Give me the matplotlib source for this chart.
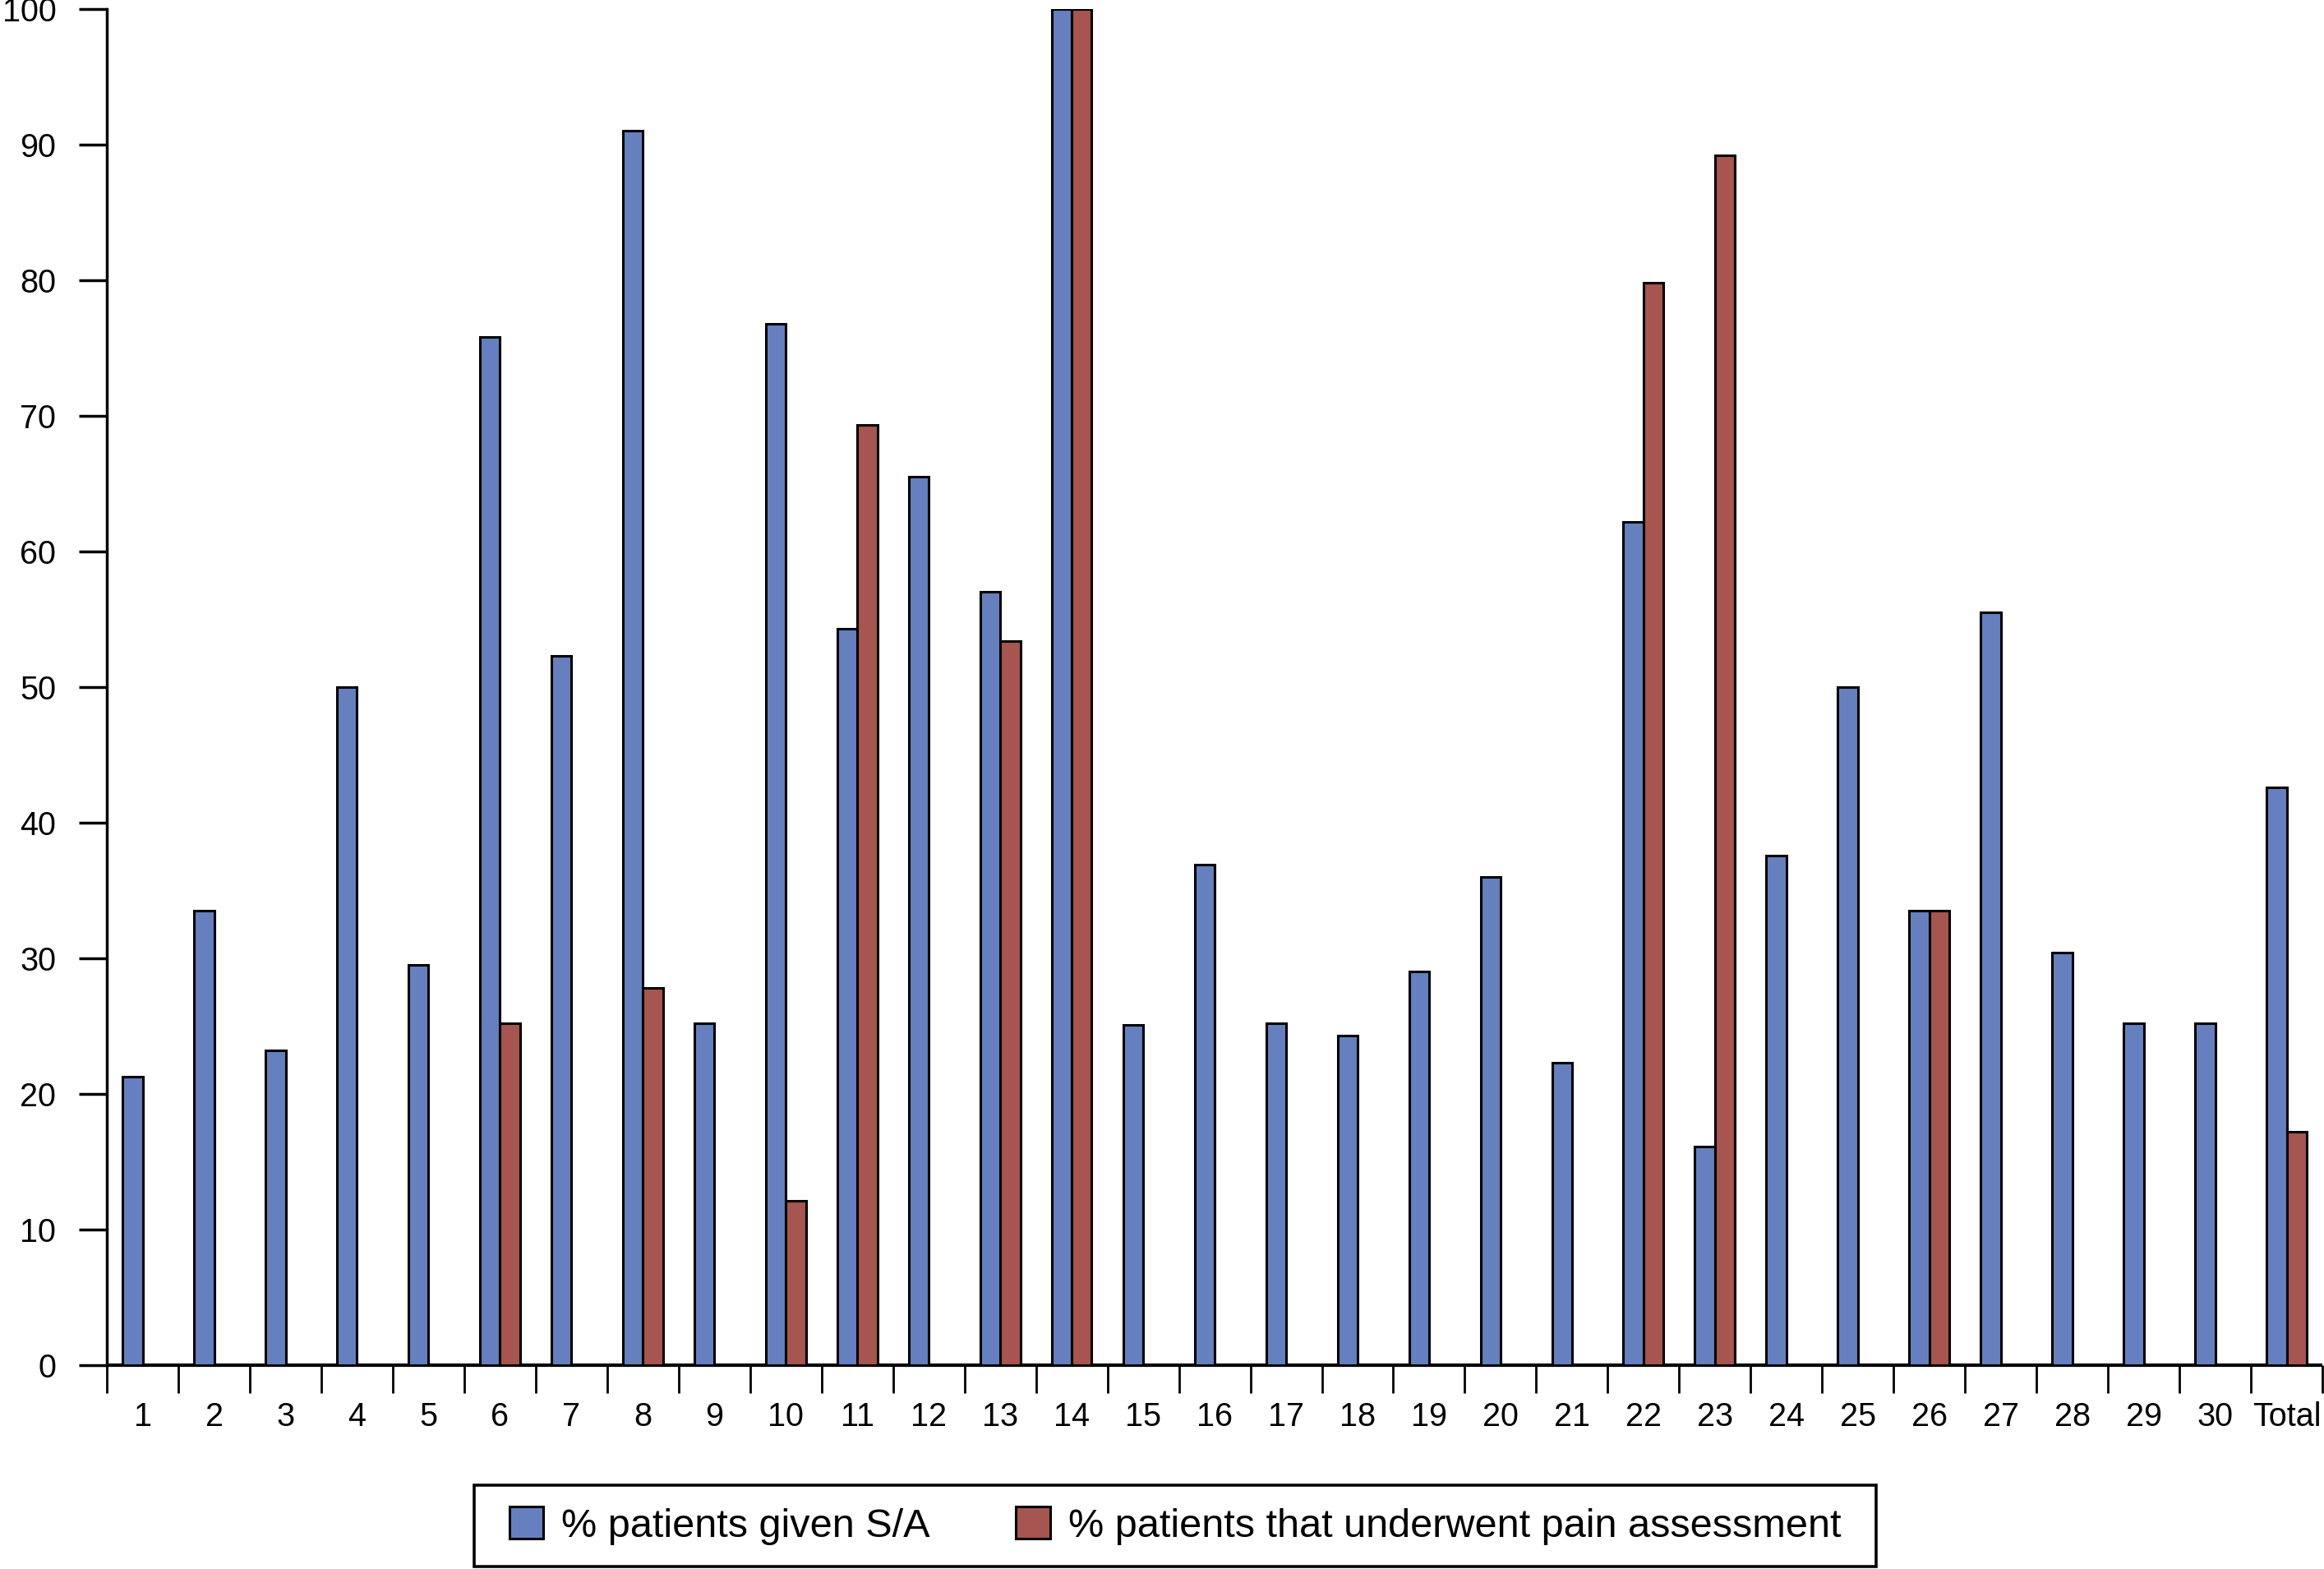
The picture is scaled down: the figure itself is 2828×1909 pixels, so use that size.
import matplotlib
matplotlib.use("Agg")
import matplotlib.pyplot as plt
import matplotlib.patches as mpatches
import numpy as np

plt.rcParams['font.family'] = ['Liberation Sans', 'DejaVu Sans']

# data
labels = [str(i) for i in range(1, 31)] + ['Total']
given_sa = [21.3, 33.5, 23.2, 50.0, 29.5, 75.8, 52.3, 91.0, 25.2, 76.8,
            54.3, 65.5, 57.0, 100.0, 25.1, 36.9, 25.2, 24.3, 29.0, 36.0,
            22.3, 62.2, 16.1, 37.6, 50.0, 33.5, 55.5, 30.4, 25.2, 25.2, 42.6]
pain_assess = [0, 0, 0, 0, 0, 25.2, 0, 27.8, 0, 12.1,
               69.3, 0, 53.4, 100.0, 0, 0, 0, 0, 0, 0,
               0, 79.8, 89.2, 0, 0, 33.5, 0, 0, 0, 0, 17.2]

blue = '#6680bf'
red = '#a65550'

fig = plt.figure(figsize=(28.28, 19.09), dpi=100)
ax = fig.add_axes([0.046, 0.1299, 0.9533, 0.8644])

x = np.arange(len(labels))
w = 0.28
ax.bar(x - w / 2, given_sa, w, color=blue, edgecolor='black', linewidth=2.2,
       label='% patients given S/A', zorder=3)
# only draw red where there is a value
xr = [xi for xi, v in zip(x, pain_assess) if v > 0]
vr = [v for v in pain_assess if v > 0]
ax.bar(np.array(xr) + w / 2, vr, w, color=red, edgecolor='black', linewidth=2.2,
       label='% patients that underwent pain assessment', zorder=3)

ax.set_xlim(-0.5, len(labels) - 0.5)
ax.set_ylim(0, 100)
ax.set_yticks(range(0, 101, 10))
ax.set_xticks(x)
ax.set_xticklabels(labels)
ax.set_xticks(np.arange(-0.5, len(labels), 1.0), minor=True)

for s in ['top', 'right']:
    ax.spines[s].set_visible(False)
ax.spines['left'].set_linewidth(2.5)
ax.spines['bottom'].set_linewidth(3.0)
ax.spines['bottom'].set_capstyle('butt')

ax.tick_params(axis='y', length=24.5, width=2.5, pad=20, labelsize=28.5)
ax.tick_params(axis='x', which='major', length=0, pad=32, labelsize=28.5)
ax.tick_params(axis='x', which='minor', length=24.5, width=2.0)

fig.legend(loc='center', bbox_to_anchor=(0.5057, 0.0275), ncol=2,
           fontsize=35, frameon=False, handlelength=0.85, handleheight=0.85,
           handletextpad=0.45, columnspacing=2.15, borderaxespad=0)

# legend box drawn by hand so it can be wider than the legend's own padding
fig.patches.append(mpatches.Rectangle((577 / 2828, 3 / 1909), 1706 / 2828, 99 / 1909,
                                      transform=fig.transFigure, fill=False,
                                      edgecolor='black', linewidth=2.6))

fig.savefig('out.png', dpi=100)
